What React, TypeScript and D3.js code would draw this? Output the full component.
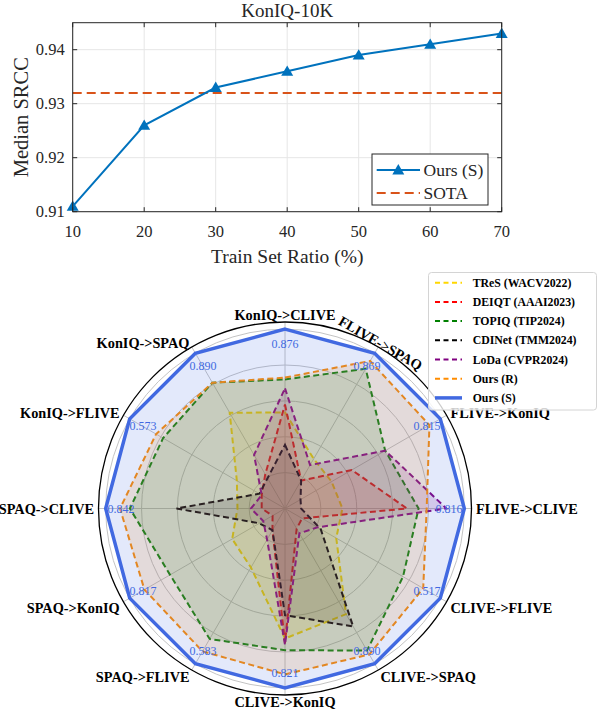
import React from 'react';
import * as d3 from 'd3';

// ---- top chart: median SRCC vs train ratio ----
const ratios = [10, 20, 30, 40, 50, 60, 70];
const oursSrcc = [0.911, 0.926, 0.933, 0.936, 0.939, 0.941, 0.943];
const sotaSrcc = 0.932;
const srccTicks = [0.91, 0.92, 0.93, 0.94];

// ---- radar chart: cross-dataset results ----
const tasks = [
  'KonIQ->CLIVE', 'FLIVE->SPAQ', 'FLIVE->KonIQ', 'FLIVE->CLIVE',
  'CLIVE->FLIVE', 'CLIVE->SPAQ', 'CLIVE->KonIQ', 'SPAQ->FLIVE',
  'SPAQ->KonIQ', 'SPAQ->CLIVE', 'KonIQ->FLIVE', 'KonIQ->SPAQ',
];
const oursBest = ['0.876', '0.869', '0.815', '0.816', '0.517', '0.890', '0.821', '0.583', '0.817', '0.842', '0.573', '0.890'];
const rotatedTasks = ['FLIVE->SPAQ'];

const methods = ['TReS (WACV2022)', 'DEIQT (AAAI2023)', 'TOPIQ (TIP2024)', 'CDINet (TMM2024)', 'LoDa (CVPR2024)', 'Ours (R)', 'Ours (S)'];
// normalised scores, same order as tasks
const tresVals = [0.535, 0.32, 0.30, 0.32, 0.33, 0.68, 0.725, 0.38, 0.34, 0.265, 0.31, 0.617];
const deiqtVals = [0.58, 0.18, 0.43, 0.68, 0.11, 0.13, 0.75, 0.14, 0.08, 0.13, 0.15, 0.22];
const topiqVals = [0.72, 0.90, 0.645, 0.745, 0.76, 0.915, 0.79, 0.84, 0.74, 0.865, 0.785, 0.81];
const cdinetVals = [0.355, 0.18, 0.10, 0.09, 0.23, 0.76, 0.595, 0.14, 0.165, 0.605, 0.165, 0.195];
const lodaVals = [0.67, 0.28, 0.645, 0.90, 0.21, 0.16, 0.76, 0.20, 0.14, 0.19, 0.15, 0.345];
const oursRVals = [0.73, 0.95, 0.93, 0.79, 0.89, 0.94, 0.925, 0.92, 0.905, 0.92, 0.83, 0.81];
const oursSVals = [1, 1, 1, 1, 1, 1, 1, 1, 1, 1, 1, 1];
const radarSeries = [tresVals, deiqtVals, topiqVals, cdinetVals, lodaVals, oursRVals, oursSVals];
const radarColors = ['#FFD700', '#FF0000', '#008000', '#000000', '#800080', '#FF8C00', '#4169E1'];
const ringTicks = [0.2, 0.4, 0.6, 0.8, 1.0];

const serif = "'Liberation Serif', 'Times New Roman', serif";

const LineChart = () => {
  const x = d3.scaleLinear().domain([10, 70]).range([72.7, 501.7]);
  const y = d3.scaleLinear().domain([0.91, 0.945]).range([211.7, 22.7]);
  const [x0, x1] = x.range();
  const [y0, y1] = y.range();
  const line = d3.line<number>().x((d, i) => x(ratios[i])).y(d => y(d));
  const tri = d3.symbol(d3.symbolTriangle, 62)();
  const axisCol = '#262626';

  return (
    <g fontFamily={serif}>
      {/* grid */}
      {ratios.map(r => (
        <line key={'gx' + r} x1={x(r)} x2={x(r)} y1={y0} y2={y1} stroke="#e6e6e6" strokeWidth={1} />
      ))}
      {srccTicks.map(t => (
        <line key={'gy' + t} x1={x0} x2={x1} y1={y(t)} y2={y(t)} stroke="#e6e6e6" strokeWidth={1} />
      ))}
      {/* SOTA */}
      <line x1={x0} x2={x1} y1={y(sotaSrcc)} y2={y(sotaSrcc)} stroke="#D95319" strokeWidth={2} strokeDasharray="9,5" />
      {/* ours */}
      <path d={line(oursSrcc) || ''} fill="none" stroke="#0072BD" strokeWidth={2} />
      {oursSrcc.map((v, i) => (
        <path key={'m' + i} d={tri || ''} transform={`translate(${x(ratios[i])},${y(v) + 1})`} fill="#0072BD" />
      ))}
      {/* box + ticks */}
      <rect x={x0} y={y1} width={x1 - x0} height={y0 - y1} fill="none" stroke={axisCol} strokeWidth={1} />
      {ratios.map(r => (
        <g key={'tx' + r}>
          <line x1={x(r)} x2={x(r)} y1={y0} y2={y0 - 4.5} stroke={axisCol} />
          <line x1={x(r)} x2={x(r)} y1={y1} y2={y1 + 4.5} stroke={axisCol} />
          <text x={x(r)} y={y0 + 20} fontSize={16.5} textAnchor="middle" dominantBaseline="central" fill={axisCol}>{r}</text>
        </g>
      ))}
      {srccTicks.map(t => (
        <g key={'ty' + t}>
          <line x1={x0} x2={x0 + 4.5} y1={y(t)} y2={y(t)} stroke={axisCol} />
          <line x1={x1} x2={x1 - 4.5} y1={y(t)} y2={y(t)} stroke={axisCol} />
          <text x={x0 - 8} y={y(t)} fontSize={16.5} textAnchor="end" dominantBaseline="central" fill={axisCol}>{t.toFixed(2)}</text>
        </g>
      ))}
      <text x={(x0 + x1) / 2} y={17} fontSize={19} textAnchor="middle" fill={axisCol}>KonIQ-10K</text>
      <text x={(x0 + x1) / 2} y={263} fontSize={19.5} textAnchor="middle" fill={axisCol}>Train Set Ratio (%)</text>
      <text transform={`translate(28,${(y0 + y1) / 2}) rotate(-90)`} fontSize={20.5} textAnchor="middle" fill={axisCol}>Median SRCC</text>
      {/* legend */}
      <g>
        <rect x={372} y={154} width={116} height={51} fill="#fff" stroke={axisCol} strokeWidth={1} />
        <line x1={376.7} x2={420} y1={170} y2={170} stroke="#0072BD" strokeWidth={2} />
        <path d={tri || ''} transform="translate(398.3,171)" fill="#0072BD" />
        <text x={423.5} y={170} fontSize={17.5} dominantBaseline="central" fill={axisCol}>Ours (S)</text>
        <line x1={376.7} x2={420} y1={193} y2={193} stroke="#D95319" strokeWidth={2} strokeDasharray="9,5" />
        <text x={423.5} y={193} fontSize={17.5} dominantBaseline="central" fill={axisCol}>SOTA</text>
      </g>
    </g>
  );
};

const Radar = () => {
  const cx = 285;
  const cy = 508.5;
  const rOuter = 186.5;
  const r = d3.scaleLinear().domain([0, 1.04]).range([0, rOuter]);
  const step = (2 * Math.PI) / tasks.length;
  const ang = (i: number) => i * step;
  const radial = d3.lineRadial<number>().angle((d, i) => ang(i)).radius(d => r(d)).curve(d3.curveLinearClosed);
  const px = (a: number, rad: number) => [cx + rad * Math.sin(a), cy - rad * Math.cos(a)];

  return (
    <g fontFamily={serif}>
      {/* grid */}
      {ringTicks.map(t => (
        <circle key={'ring' + t} cx={cx} cy={cy} r={r(t)} fill="none" stroke="#c4c4c4" strokeWidth={1} />
      ))}
      {tasks.map((t, i) => {
        const [ex, ey] = px(ang(i), rOuter);
        return <line key={'sp' + i} x1={cx} y1={cy} x2={ex} y2={ey} stroke="#c4c4c4" strokeWidth={1} />;
      })}
      {/* series */}
      {radarSeries.map((vals, k) => (
        <path
          key={'s' + k}
          d={radial(vals) || ''}
          transform={`translate(${cx},${cy})`}
          fill={radarColors[k]}
          fillOpacity={0.15}
          stroke={radarColors[k]}
          strokeWidth={k === radarSeries.length - 1 ? 3.5 : 2}
          strokeDasharray={k === radarSeries.length - 1 ? undefined : '6,3.5'}
          strokeLinejoin="miter"
        />
      ))}
      <circle cx={cx} cy={cy} r={rOuter} fill="none" stroke="#000" strokeWidth={1.3} />
      {/* value labels */}
      {oursBest.map((s, i) => {
        const [lx, ly] = px(ang(i), r(0.915));
        return (
          <text key={'v' + i} x={lx} y={ly} fontSize={12} fill="#4169E1" textAnchor="middle" dominantBaseline="central">{s}</text>
        );
      })}
      {/* task labels */}
      {tasks.map((t, i) => {
        const a = ang(i);
        const [lx, ly] = px(a, 191);
        const s = Math.sin(a);
        const c = Math.cos(a);
        if (rotatedTasks.includes(t)) {
          return (
            <text key={'t' + i} transform={`translate(${lx},${ly}) rotate(${(a * 180) / Math.PI})`} fontSize={14.3} fontWeight="bold" textAnchor="middle" dominantBaseline="central">{t}</text>
          );
        }
        const axial = Math.abs(s) < 0.01;
        const anchor = axial ? 'middle' : s > 0 ? 'start' : 'end';
        const dy = axial ? -c * 2.5 : c < -0.01 ? 3.5 : 0;
        return (
          <text key={'t' + i} x={lx} y={ly + dy} fontSize={14.3} fontWeight="bold" textAnchor={anchor} dominantBaseline="central">{t}</text>
        );
      })}
      {/* legend */}
      <g>
        <rect x={428.5} y={272.5} width={168} height={137.5} rx={3} fill="#fff" fillOpacity={0.8} stroke="#d4d4d4" strokeWidth={1} />
        {methods.map((m, k) => {
          const ly = 282.7 + k * 19.2;
          const last = k === methods.length - 1;
          return (
            <g key={'lg' + k}>
              <line x1={435} x2={462} y1={ly} y2={ly} stroke={radarColors[k]} strokeWidth={last ? 3.5 : 2} strokeDasharray={last ? undefined : '5,3.5'} />
              <text x={472.7} y={ly} fontSize={11.8} fontWeight="bold" dominantBaseline="central">{m}</text>
            </g>
          );
        })}
      </g>
    </g>
  );
};

const App = () => (
  <div style={{ position: 'absolute', left: 0, top: 0 }}>
    <svg width={598} height={712} style={{ display: 'block', background: '#fff' }}>
      <LineChart />
      <Radar />
    </svg>
  </div>
);

export default App;
